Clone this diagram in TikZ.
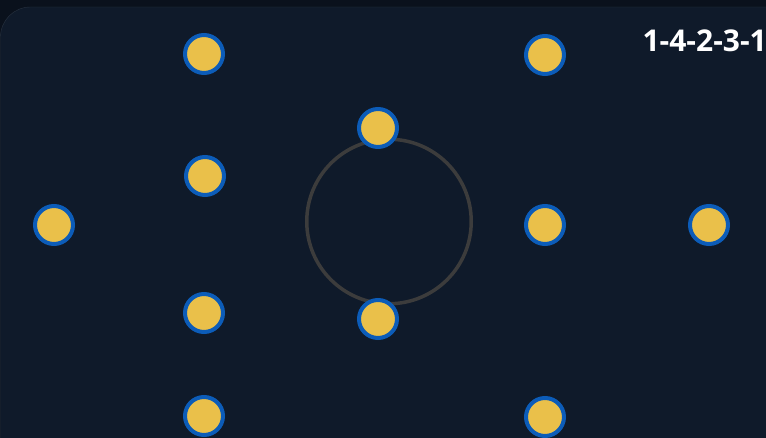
\documentclass[tikz,border=0pt]{standalone}
\usepackage{fontspec}
\setmainfont{Open Sans}
\begin{document}
\begin{tikzpicture}[x=1pt,y=-1pt]
\definecolor{bgdark}{RGB}{10,17,28}
\definecolor{pitch}{RGB}{15,26,42}
\definecolor{edge}{RGB}{40,50,64}
\definecolor{ring}{RGB}{60,60,60}
\definecolor{shirt}{RGB}{234,192,74}
\definecolor{trim}{RGB}{12,92,184}
\tikzset{player/.style={circle,fill=shirt,draw=trim,line width=4pt,minimum size=38pt,inner sep=0pt}}
	\fill[bgdark] (0,0) rectangle (766,438);
	\useasboundingbox (0,0) rectangle (766,438);
	\draw[edge,fill=pitch,rounded corners=30pt] (0.5,7) rectangle (820,480);
	\node[circle,draw=ring,line width=3.5pt,minimum size=164.5pt,inner sep=0pt] (centre) at (389,221.5){};
	% goalkeeper
	\node[player] (gk) at (54,225){};
	% back four
	\node[player] (rb) at (204,54){};
	\node[player] (rcb) at (205,176){};
	\node[player] (lcb) at (204,313){};
	\node[player] (lb) at (204,416){};
	% double pivot
	\node[player] (rdm) at (378,128){};
	\node[player] (ldm) at (378,319){};
	% attacking three
	\node[player] (rw) at (545,55){};
	\node[player] (am) at (545,225){};
	\node[player] (lw) at (545,417){};
	% striker
	\node[player] (st) at (709,225){};
	\node[anchor=base east,text=white,font=\bfseries\fontsize{30}{35}\selectfont,inner sep=0pt] (shape) at (767,52){1-4-2-3-1};
\end{tikzpicture}
\end{document}
